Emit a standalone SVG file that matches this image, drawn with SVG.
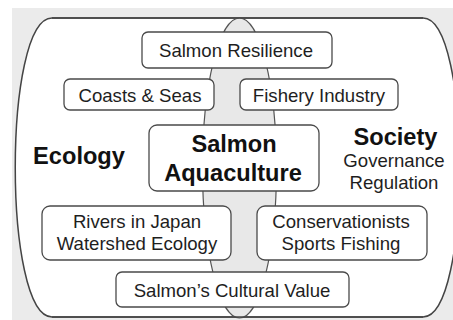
<svg xmlns="http://www.w3.org/2000/svg" width="453" height="320" viewBox="0 0 453 320">
<style>
.box{fill:#fff;stroke:#4a4a4a;stroke-width:1.3}
.t{font-family:"Liberation Sans",Arial,sans-serif;font-size:18.6px;fill:#1e1e1e;text-anchor:middle}
.b{font-family:"Liberation Sans",Arial,sans-serif;font-weight:bold;font-size:23.6px;fill:#111;text-anchor:middle}
</style>
<rect width="453" height="320" fill="#fff"/>
<rect x="12" y="8" width="441" height="312" fill="#ebebeb"/>
<g id="background">
<path d="M52,18 L423,18 C472,18 472,317 423,317 L52,317 C3,317 3,18 52,18 Z" fill="#fff" stroke="#444" stroke-width="1.5"/>
<ellipse cx="239.5" cy="168" rx="37" ry="150" fill="#e8e8e8" stroke="#555" stroke-width="1.2"/>
<path d="M52,18 L423,18 M52,317 L423,317" fill="none" stroke="#444" stroke-width="1.5"/>
</g>
<g id="ecology"><text class="b" x="79" y="164">Ecology</text></g>
<g id="society">
<text class="b" x="395.5" y="145">Society</text>
<text class="t" x="394" y="167">Governance</text>
<text class="t" x="394" y="189">Regulation</text>
</g>
<g id="salmon-resilience"><rect class="box" x="142" y="32" width="190" height="36" rx="6"/><text class="t" x="236" y="57">Salmon Resilience</text></g>
<g id="coasts-seas"><rect class="box" x="64" y="79" width="150" height="31" rx="6"/><text class="t" x="140" y="102">Coasts &amp; Seas</text></g>
<g id="fishery-industry"><rect class="box" x="240" y="79" width="158" height="31" rx="6"/><text class="t" x="319" y="102">Fishery Industry</text></g>
<g id="salmon-aquaculture"><rect class="box" x="149" y="125" width="170" height="66" rx="8"/><text class="b" x="234" y="152">Salmon</text><text class="b" x="233" y="181">Aquaculture</text></g>
<g id="rivers-japan"><rect class="box" x="42" y="206" width="189" height="54" rx="8"/><text class="t" x="137" y="228">Rivers in Japan</text><text class="t" x="137" y="250">Watershed Ecology</text></g>
<g id="conservationists"><rect class="box" x="257" y="206" width="170" height="54" rx="8"/><text class="t" x="341" y="228">Conservationists</text><text class="t" x="341" y="250">Sports Fishing</text></g>
<g id="cultural-value"><rect class="box" x="116" y="272" width="233" height="35" rx="6"/><text class="t" x="232" y="297">Salmon’s Cultural Value</text></g>
<g id="connectors"></g>
</svg>
